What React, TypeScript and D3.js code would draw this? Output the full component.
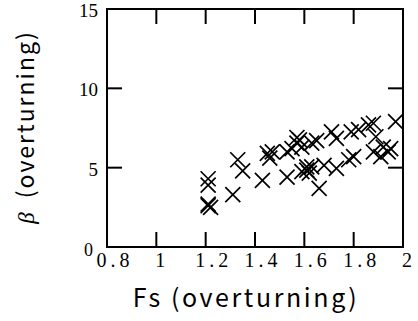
import React from "react";
import * as d3 from "d3";

const fsValues = [
  1.21, 1.22, 1.21, 1.21, 1.21, 1.31, 1.33, 1.35, 1.43, 1.45, 1.46, 1.47,
  1.53, 1.53, 1.55, 1.57, 1.58, 1.59, 1.63, 1.65, 1.71, 1.73, 1.79, 1.82,
  1.86, 1.88, 1.97, 1.89, 1.92, 1.91, 1.94, 1.95, 1.88, 1.59, 1.61, 1.62,
  1.63, 1.66, 1.68, 1.73, 1.78, 1.8, 1.61, 1.57,
];
const betaValues = [
  2.6, 2.5, 2.7, 4.3, 3.9, 3.3, 5.5, 4.8, 4.2, 5.9, 5.6, 6.0,
  4.4, 6.0, 6.2, 6.55, 6.75, 6.3, 6.55, 6.7, 7.25, 6.85, 7.25, 7.4,
  7.7, 7.8, 7.9, 6.95, 6.3, 5.7, 6.0, 6.2, 6.0, 4.75, 5.05, 4.65,
  5.05, 3.7, 5.15, 4.95, 5.5, 5.7, 4.85, 6.9,
];
const xTicks = [0.8, 1, 1.2, 1.4, 1.6, 1.8, 2];
const yTicks = [0, 5, 10, 15];
const xTitle = ["Fs", "(overturning)"];
const yTitleSymbol = "β";
const yTitleText = "(overturning)";

export default function App() {
  const W = 418, H = 321;
  const left = 107, right = 403, top = 9, bottom = 247;
  const x = d3.scaleLinear().domain([0.8, 2]).range([left, right]);
  const y = d3.scaleLinear().domain([0, 15]).range([bottom, top]);
  const tickLen = 15;
  const m = 7.5;
  return (
    <svg width={W} height={H} style={{ position: "absolute", left: 0, top: 0, background: "#fff" }}>
      <rect x={0} y={0} width={W} height={H} fill="#fff" />
      {xTicks.slice(1, -1).map((t) => (
        <g key={"xt" + t}>
          <line x1={x(t)} x2={x(t)} y1={bottom} y2={bottom - tickLen} stroke="#000" strokeWidth={2} />
          <line x1={x(t)} x2={x(t)} y1={top} y2={top + tickLen} stroke="#000" strokeWidth={2} />
        </g>
      ))}
      {yTicks.slice(1, -1).map((t) => (
        <g key={"yt" + t}>
          <line x1={left} x2={left + tickLen} y1={y(t)} y2={y(t)} stroke="#000" strokeWidth={2} />
          <line x1={right} x2={right - tickLen} y1={y(t)} y2={y(t)} stroke="#000" strokeWidth={2} />
        </g>
      ))}
      <rect x={left} y={top} width={right - left} height={bottom - top} fill="none" stroke="#000" strokeWidth={2} />
      {xTicks.map((t) => {
        const isInt = Number.isInteger(t);
        return (
          <text key={"xl" + t} x={x(t) + (isInt ? 4 : 8)} y={267} textAnchor="middle"
            fontFamily="'Liberation Serif', serif" fontSize={20} letterSpacing={isInt ? 0 : 4}>
            {d3.format("~g")(t)}
          </text>
        );
      })}
      {yTicks.map((t) => (
        t === 0 ? (
          <text key={"yl0"} x={93} y={256} textAnchor="end" fontFamily="'Liberation Serif', serif" fontSize={18}>0</text>
        ) : (
          <text key={"yl" + t} x={98} y={y(t) + 8} textAnchor="end" fontFamily="'Liberation Serif', serif" fontSize={19}>
            {t}
          </text>
        )
      ))}
      {fsValues.map((f, i) => {
        const cx = x(f), cy = y(betaValues[i]);
        return (
          <path key={"p" + i} d={`M${cx - m},${cy - m}L${cx + m},${cy + m}M${cx - m},${cy + m}L${cx + m},${cy - m}`}
            stroke="#000" strokeWidth={1.7} fill="none" />
        );
      })}
      <text x={246} y={307} textAnchor="middle" fontFamily="'Noto Sans CJK JP', 'Noto Sans', sans-serif" fontSize={25} letterSpacing={2.6}>
        <tspan>{xTitle[0]}</tspan>
        <tspan dx={8}>{xTitle[1]}</tspan>
      </text>
      <text transform="translate(34,127) rotate(-90)" textAnchor="middle" fontSize={23}
        fontFamily="'Noto Sans CJK JP', 'Noto Sans', sans-serif" letterSpacing={2}>
        <tspan fontFamily="'Liberation Serif', serif" fontStyle="italic">{yTitleSymbol}</tspan>
        <tspan dx={12}>{yTitleText}</tspan>
      </text>
    </svg>
  );
}
